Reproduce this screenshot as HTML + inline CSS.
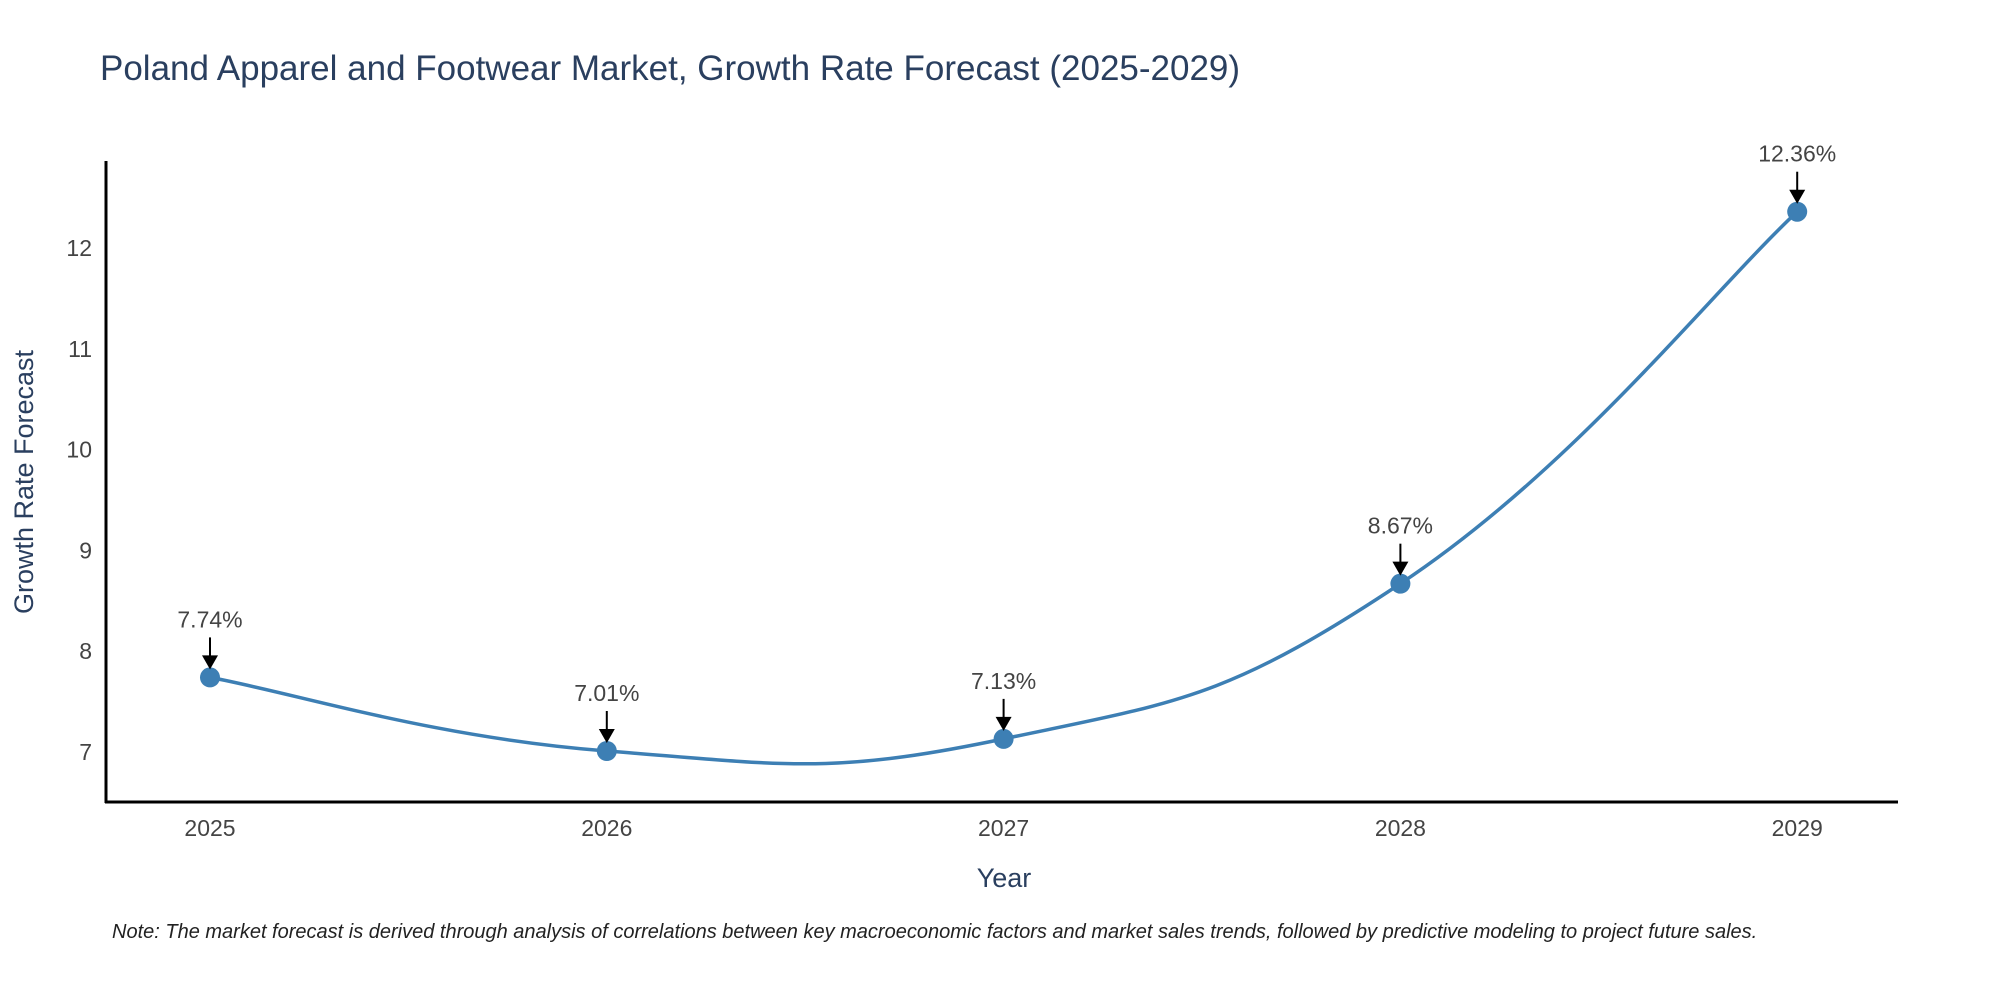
<!DOCTYPE html>
<html><head><meta charset="utf-8"><style>
body{margin:0;background:#fff;}
svg text{font-family:"Liberation Sans",sans-serif;}
</style></head><body>
<svg width="2000" height="1000" xmlns="http://www.w3.org/2000/svg" id="chart">
<text x="100" y="80" font-size="35" fill="#2a3f5f">Poland Apparel and Footwear Market, Growth Rate Forecast (2025-2029)</text>
<g id="plot"></g>
<line x1="106" y1="161" x2="106" y2="803" stroke="#000" stroke-width="3"/>
<line x1="105" y1="802" x2="1898" y2="802" stroke="#000" stroke-width="3"/>
<text transform="translate(33,482) rotate(-90)" text-anchor="middle" font-size="27" fill="#2a3f5f">Growth Rate Forecast</text>
<text x="1004" y="887" text-anchor="middle" font-size="27" fill="#2a3f5f">Year</text>
<text x="112" y="938" font-size="20" font-style="italic" fill="#222">Note: The market forecast is derived through analysis of correlations between key macroeconomic factors and market sales trends, followed by predictive modeling to project future sales.</text>
</svg>
<script>
const years=[2025,2026,2027,2028,2029];
const values=[7.74,7.01,7.13,8.67,12.36];
const labels=["7.74%","7.01%","7.13%","8.67%","12.36%"];
const yTicks=[7,8,9,10,11,12];
const NS="http://www.w3.org/2000/svg";
const g=document.getElementById('plot');
const xS=v=>210+(v-2025)*396.8;
const yS=v=>752-(v-7)*100.8;
function mk(t,a){const e=document.createElementNS(NS,t);for(const k in a)e.setAttribute(k,a[k]);g.appendChild(e);return e;}
yTicks.forEach(t=>{const e=mk('text',{x:92,y:yS(t)+8,'text-anchor':'end','font-size':23,fill:'#444'});e.textContent=t;

});
years.forEach(t=>{const e=mk('text',{x:xS(t),y:836,'text-anchor':'middle','font-size':23,fill:'#444'});e.textContent=t;

});
const P=years.map((y,i)=>[xS(y),yS(values[i])]);
let d='M'+P[0][0]+','+P[0][1];
const k=0.22;
for(let i=0;i<P.length-1;i++){const p0=P[Math.max(0,i-1)],p1=P[i],p2=P[i+1],p3=P[Math.min(P.length-1,i+2)];
d+=' C'+(p1[0]+(p2[0]-p0[0])*k)+','+(p1[1]+(p2[1]-p0[1])*k)+' '+(p2[0]-(p3[0]-p1[0])*k)+','+(p2[1]-(p3[1]-p1[1])*k)+' '+p2[0]+','+p2[1];}
const line=mk('path',{d:d,fill:'none',stroke:'#3d7fb4','stroke-width':3.5});


P.forEach((p,i)=>{const c=mk('circle',{cx:p[0],cy:p[1],r:10,fill:'#3d7fb4'});


const a=mk('line',{x1:p[0],y1:p[1]-40,x2:p[0],y2:p[1]-20,stroke:'#000','stroke-width':2});


const h=mk('polygon',{points:(p[0]-8)+','+(p[1]-22)+' '+(p[0]+8)+','+(p[1]-22)+' '+p[0]+','+(p[1]-8),fill:'#000'});


const t=mk('text',{x:p[0],y:p[1]-50,'text-anchor':'middle','font-size':23,fill:'#444'});t.textContent=labels[i];

});
</script>
</body></html>
